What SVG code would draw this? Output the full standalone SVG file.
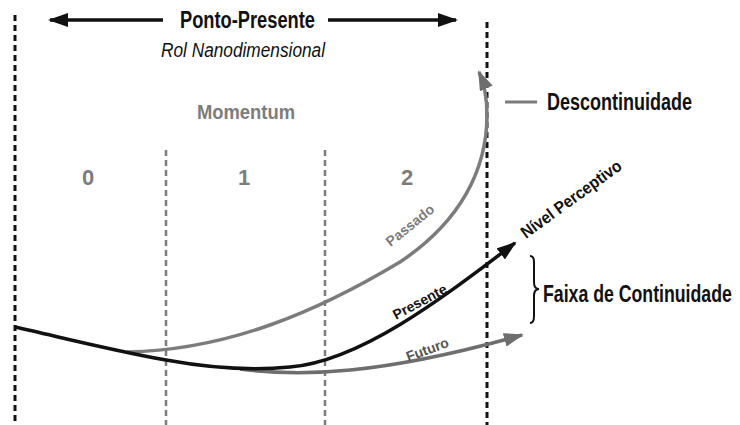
<svg xmlns="http://www.w3.org/2000/svg" width="740" height="425" viewBox="0 0 740 425">
<style>
.t{font-family:"Liberation Sans","DejaVu Sans",sans-serif;font-weight:bold}
.blk{fill:#111}
.gry{fill:#7c7c7c}
.vb{stroke:#111;stroke-width:3;stroke-dasharray:6 4;fill:none}
.vg{stroke:#7c7c7c;stroke-width:2.5;stroke-dasharray:6 4;fill:none}
</style>
<defs>
<marker id="ab" viewBox="0 0 20 14" refX="18" refY="7" markerWidth="20" markerHeight="14" markerUnits="userSpaceOnUse" orient="auto"><path d="M0,0 L20,7 L0,14 Z" fill="#111"/></marker>
<marker id="ag" viewBox="0 0 20 14" refX="18" refY="7" markerWidth="20" markerHeight="14" markerUnits="userSpaceOnUse" orient="auto"><path d="M0,0 L20,7 L0,14 Z" fill="#6e6e6e"/></marker>
</defs>
<rect width="740" height="425" fill="#fff"/>
<g id="guides">
<line class="vb" x1="15" y1="15" x2="15" y2="425"/>
<line class="vb" x1="487" y1="22" x2="487" y2="425"/>
<line class="vg" x1="166" y1="150" x2="166" y2="425"/>
<line class="vg" x1="325" y1="150" x2="325" y2="425"/>
</g>
<g id="ponto-presente">
<line x1="163" y1="20" x2="50" y2="20" stroke="#111" stroke-width="3.5" marker-end="url(#ab)"/>
<line x1="328" y1="20" x2="456" y2="20" stroke="#111" stroke-width="3.5" marker-end="url(#ab)"/>
<text class="t blk" x="180" y="28" font-size="23" textLength="135" lengthAdjust="spacingAndGlyphs">Ponto-Presente</text>
<text class="blk" x="161" y="57" font-family="Liberation Sans, sans-serif" font-style="italic" font-size="20" textLength="164" lengthAdjust="spacingAndGlyphs">Rol Nanodimensional</text>
</g>
<g id="momentum">
<text class="t gry" x="197" y="119" font-size="21" textLength="98" lengthAdjust="spacingAndGlyphs">Momentum</text>
<text class="t gry" x="88" y="185" font-size="22" text-anchor="middle" font-weight="normal">0</text>
<text class="t gry" x="244" y="185" font-size="22" text-anchor="middle" font-weight="normal">1</text>
<text class="t gry" x="407" y="185" font-size="22" text-anchor="middle" font-weight="normal">2</text>
</g>
<g id="connectors">
<path d="M127,352 C230,350 320,310 400,262 C460,222 487,170 487,115 Q487,90 479,72" stroke="#7c7c7c" stroke-width="3.5" fill="none" marker-end="url(#ag)"/>
<path d="M240,369 C300,377 380,375 522,335" stroke="#6e6e6e" stroke-width="3.5" fill="none" marker-end="url(#ag)"/>
<path d="M15,327 C60,337 110,350 166,360 C210,368 250,371 290,367 C360,361 440,300 515,243" stroke="#111" stroke-width="3.5" fill="none" marker-end="url(#ab)"/>
</g>
<g id="labels">
<text class="t gry" font-size="14" text-anchor="middle" transform="translate(413,229) rotate(-39)">Passado</text>
<text class="t blk" font-size="14" text-anchor="middle" transform="translate(422,306) rotate(-28)">Presente</text>
<text class="t" fill="#555" font-size="14" text-anchor="middle" transform="translate(429,354) rotate(-20)">Futuro</text>
<text class="t blk" font-size="17" transform="translate(526,239) rotate(-36)" textLength="120" lengthAdjust="spacingAndGlyphs">Nível Perceptivo</text>
</g>
<g id="descontinuidade">
<line x1="505" y1="102" x2="537" y2="102" stroke="#7c7c7c" stroke-width="3"/>
<text class="t blk" x="547" y="110" font-size="23" textLength="145" lengthAdjust="spacingAndGlyphs">Descontinuidade</text>
</g>
<g id="faixa">
<path d="M530,256 Q534,256 534,262 L534,282 Q534,289 539,289 Q534,289 534,296 L534,316 Q534,323 530,323" stroke="#111" stroke-width="2" fill="none"/>
<text class="t blk" font-size="23" transform="translate(543,302) scale(0.77,1)">Faixa de Continuidade</text>
</g>
</svg>
